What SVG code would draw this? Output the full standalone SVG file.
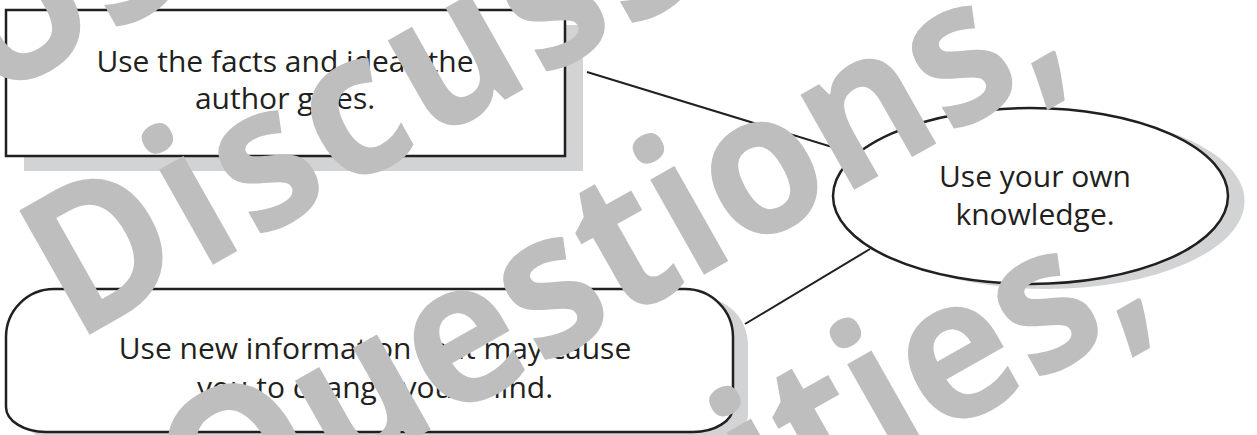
<svg xmlns="http://www.w3.org/2000/svg" width="1257" height="435" viewBox="0 0 1257 435">
<style>
.shadow{fill:#d1d3d4;stroke:none}
.shape{fill:#ffffff;stroke:#231f20;stroke-width:2.5}
.lbl{font-family:"Open Sans","Liberation Sans",sans-serif;font-size:30px;fill:#231f20;text-anchor:middle}
.conn{stroke:#231f20;stroke-width:2;fill:none}
.wm{font-family:"Open Sans","DejaVu Sans",sans-serif;font-weight:bold;font-size:200px;fill:#bebebe}
</style>
<rect width="1257" height="435" fill="#ffffff"/>
<g id="connectors">
<line class="conn" x1="587" y1="72" x2="855" y2="154"/>
<line class="conn" x1="745" y1="324" x2="870" y2="249"/>
</g>
<g id="node-facts">
<rect class="shadow" x="24" y="25" width="559" height="146"/>
<rect class="shape" x="6" y="10" width="559" height="146"/>
<text class="lbl" x="285" y="72">Use the facts and ideas the</text>
<text class="lbl" x="285" y="109">author gives.</text>
</g>
<g id="node-knowledge">
<ellipse class="shadow" cx="1047" cy="201" rx="197.5" ry="88"/>
<ellipse class="shape" cx="1030.5" cy="196" rx="197.5" ry="88"/>
<text class="lbl" x="1035" y="187">Use your own</text>
<text class="lbl" x="1035" y="225">knowledge.</text>
</g>
<g id="node-new-info">
<path class="shadow" transform="translate(15,8)" d="M54,289 H685 A48,48 0 0 1 733,337 V407 A40,25 0 0 1 693,432 H46 A40,25 0 0 1 6,407 V337 A48,48 0 0 1 54,289 Z"/>
<path class="shape" d="M54,289 H685 A48,48 0 0 1 733,337 V407 A40,25 0 0 1 693,432 H46 A40,25 0 0 1 6,407 V337 A48,48 0 0 1 54,289 Z"/>
<text class="lbl" x="375" y="359">Use new information that may cause</text>
<text class="lbl" x="375" y="398">you to change your mind.</text>
</g>
<g id="watermark">
<text class="wm" transform="translate(-12,104) rotate(-29.5) scale(0.935,1)">Use</text>
<text class="wm" transform="translate(75,343) rotate(-29.5) scale(0.935,1)" letter-spacing="6">Discussions,</text>
<text class="wm" transform="translate(207,556) rotate(-29.5) scale(0.935,1)">Questions,</text>
<text class="wm" transform="translate(359,766) rotate(-29.5) scale(0.935,1)">Activities,</text>
</g>
</svg>
